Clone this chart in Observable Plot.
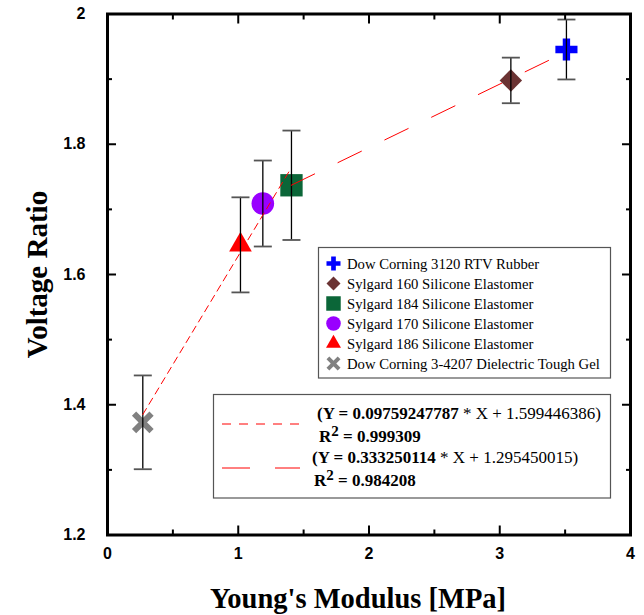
<!DOCTYPE html>
<html><head><meta charset="utf-8">
<script src="https://cdn.jsdelivr.net/npm/d3@7"></script>
<script src="https://cdn.jsdelivr.net/npm/@observablehq/plot@0.6"></script>
<style>body{margin:0;background:#fff} svg{display:block}</style>
</head><body><div id="chart"></div>
<script>
// ---- data ----
const materials = [
  "Dow Corning 3120 RTV Rubber",
  "Sylgard 160 Silicone Elastomer",
  "Sylgard 184 Silicone Elastomer",
  "Sylgard 170 Silicone Elastomer",
  "Sylgard 186 Silicone Elastomer",
  "Dow Corning 3-4207 Dielectric Tough Gel"
];
const modulus = [3.51, 3.085, 1.407, 1.188, 1.017, 0.27];
const voltageRatio = [1.9455, 1.898, 1.737, 1.709, 1.6455, 1.373];
const errorBar = [0.046, 0.035, 0.084, 0.066, 0.073, 0.072];
const colors = ["#0000ff", "#6b3333", "#0b6638", "#9900ff", "#ff0000", "#808080"];
const symbolNames = ["cross", "diamond2", "square", "circle", "triangle", "times"];

// fitted lines (endpoints)
const fitShortX = [0.27, 1.40];
const fitShortY = [1.385, 1.762];
const fitLongX = [1.405, 3.51];
const fitLongY = [1.737, 1.942];
const fitSlope = ["0.09759247787", "0.333250114"];
const fitIntercept = ["1.599446386", "1.295450015"];
const fitR2 = ["0.999309", "0.984208"];

const xMajor = [0, 1, 2, 3, 4];
const xMinor = [0.5, 1.5, 2.5, 3.5];
const yMajor = [1.2, 1.4, 1.6, 1.8, 2.0];
const yMinor = [1.3, 1.5, 1.7, 1.9];

const xTitle = "Young's Modulus [MPa]";
const yTitle = "Voltage Ratio";

// ---- build ----
const points = materials.map((m, i) => ({material: m, x: modulus[i], y: voltageRatio[i], err: errorBar[i], color: colors[i], symbol: symbolNames[i]}));
const fitShort = fitShortX.map((x, i) => ({x, y: fitShortY[i]}));
const fitLong = fitLongX.map((x, i) => ({x, y: fitLongY[i]}));

const capSymbol = {draw(ctx) { ctx.moveTo(-9, 0); ctx.lineTo(9, 0); }};
const markerR = {cross: 9.3, diamond2: 10.1, square: 12.6, circle: 11.3, triangle: 8.4, times: 8};

const serif = "Liberation Serif";
const sans = "Liberation Sans";
const fmt = d => String(+d.toFixed(1));

const dotMarks = points.map(p => Plot.dot([p], {
  x: "x", y: "y", symbol: p.symbol, r: markerR[p.symbol],
  fill: p.symbol === "times" ? "none" : p.color,
  stroke: p.symbol === "times" ? p.color : "none",
  strokeWidth: p.symbol === "times" ? 6 : 0
}));

const plot = Plot.plot({
  width: 644, height: 615,
  marginLeft: 107, marginRight: 14, marginTop: 13.5, marginBottom: 80.5,
  x: {domain: [0, 4]},
  y: {domain: [1.2, 2.0]},
  style: {background: "#fff"},
  marks: [
    ...dotMarks,
    Plot.ruleX(points, {x: "x", y1: d => d.y - d.err, y2: d => d.y + d.err, stroke: "#000", strokeWidth: 1.3}),
    Plot.dot(points, {x: "x", y: d => d.y + d.err, symbol: capSymbol, r: 5, stroke: "#555", strokeWidth: 1.8, fill: "none"}),
    Plot.dot(points, {x: "x", y: d => d.y - d.err, symbol: capSymbol, r: 5, stroke: "#555", strokeWidth: 1.8, fill: "none"}),
    Plot.line(fitShort, {x: "x", y: "y", stroke: "#ff0000", strokeWidth: 1, strokeDasharray: "7,5"}),
    Plot.line(fitLong, {x: "x", y: "y", stroke: "#ff0000", strokeWidth: 1, strokeDasharray: "26,26"}),
    // tick marks (inward, all four sides)
    Plot.axisX({ticks: xMajor, anchor: "bottom", tickSize: -9, fill: "none", strokeWidth: 2, label: null}),
    Plot.axisX({ticks: xMinor, anchor: "bottom", tickSize: -5, fill: "none", strokeWidth: 2, label: null}),
    Plot.axisX({ticks: xMajor, anchor: "top", tickSize: -9, fill: "none", strokeWidth: 2, label: null}),
    Plot.axisX({ticks: xMinor, anchor: "top", tickSize: -5, fill: "none", strokeWidth: 2, label: null}),
    Plot.axisY({ticks: yMajor, anchor: "left", tickSize: -9, fill: "none", strokeWidth: 2, label: null}),
    Plot.axisY({ticks: yMinor, anchor: "left", tickSize: -5, fill: "none", strokeWidth: 2, label: null}),
    Plot.axisY({ticks: yMajor, anchor: "right", tickSize: -9, fill: "none", strokeWidth: 2, label: null}),
    Plot.axisY({ticks: yMinor, anchor: "right", tickSize: -5, fill: "none", strokeWidth: 2, label: null}),
    // tick labels
    Plot.axisX({ticks: xMajor, anchor: "bottom", tickSize: 0, tickPadding: 13, tickFormat: fmt, label: null,
      fontSize: 16, fontWeight: "bold", fontFamily: sans, fill: "#000"}),
    Plot.axisY({ticks: yMajor, anchor: "left", tickSize: 0, tickPadding: 22, tickFormat: fmt, label: null,
      fontSize: 16, fontWeight: "bold", fontFamily: sans, fill: "#000"}),
    Plot.frame({stroke: "#000", strokeWidth: 3}),
    Plot.text([xTitle], {text: d => d, frameAnchor: "bottom", dy: 64, dx: -11, lineAnchor: "middle", textAnchor: "middle",
      fontSize: 28.5, fontWeight: "bold", fontFamily: serif, fill: "#000"}),
    Plot.text([yTitle], {text: d => d, frameAnchor: "left", dx: -70, rotate: -90, lineAnchor: "middle", textAnchor: "middle",
      fontSize: 29, fontWeight: "bold", fontFamily: serif, fill: "#000"})
  ]
});

// ---- in-plot legend boxes ----
const svg = d3.select(plot);
const d3sym = {cross: d3.symbolCross, diamond2: d3.symbolDiamond2, square: d3.symbolSquare, circle: d3.symbolCircle, triangle: d3.symbolTriangle, times: d3.symbolTimes};
const legendSize = {cross: 109, diamond2: 125, square: 210, circle: 167, triangle: 97, times: 83};

const lg = svg.append("g").attr("font-family", serif).attr("font-size", 14.7).attr("fill", "#000").attr("text-anchor", "start");
lg.append("rect").attr("x", 318.5).attr("y", 247.5).attr("width", 292).attr("height", 130.5)
  .attr("fill", "#fff").attr("stroke", "#555").attr("stroke-width", 1.2);
points.forEach((p, i) => {
  const cy = 263.5 + i * 20;
  const isStroke = p.symbol === "times";
  lg.append("path").attr("transform", `translate(333.5,${cy})`)
    .attr("d", d3.symbol(d3sym[p.symbol], legendSize[p.symbol])())
    .attr("fill", isStroke ? "none" : p.color)
    .attr("stroke", isStroke ? p.color : "none")
    .attr("stroke-width", isStroke ? 4 : 0);
  lg.append("text").attr("x", 347).attr("y", cy).attr("dy", "0.35em").text(p.material);
});

const eq = svg.append("g").attr("font-family", serif).attr("font-size", 17).attr("fill", "#000").attr("text-anchor", "start");
eq.append("rect").attr("x", 213.5).attr("y", 394.5).attr("width", 397).attr("height", 103.5)
  .attr("fill", "#fff").attr("stroke", "#555").attr("stroke-width", 1.2);
const sampleDash = ["9,8", "28,25"];
const eqRows = [
  {lineY: 424, eqX: 317, eqY: 413, rX: 319, rY: 436},
  {lineY: 468, eqX: 312, eqY: 457, rX: 314, rY: 480}
];
eqRows.forEach((r, i) => {
  eq.append("line").attr("x1", 222).attr("x2", 300).attr("y1", r.lineY).attr("y2", r.lineY)
    .attr("stroke", "#ff0000").attr("stroke-width", 1).attr("stroke-dasharray", sampleDash[i]);
  const t = eq.append("text").attr("x", r.eqX).attr("y", r.eqY).attr("dy", "0.35em");
  t.append("tspan").attr("font-weight", "bold").text(`(Y = ${fitSlope[i]}`);
  t.append("tspan").text(` * X + ${fitIntercept[i]})`);
  const t2 = eq.append("text").attr("x", r.rX).attr("y", r.rY).attr("dy", "0.35em").attr("font-weight", "bold");
  t2.append("tspan").text("R");
  t2.append("tspan").attr("dy", -6).attr("font-size", 15).text("2");
  t2.append("tspan").attr("dy", 6).text(` = ${fitR2[i]}`);
});

document.getElementById("chart").append(plot);
</script>
</body></html>
